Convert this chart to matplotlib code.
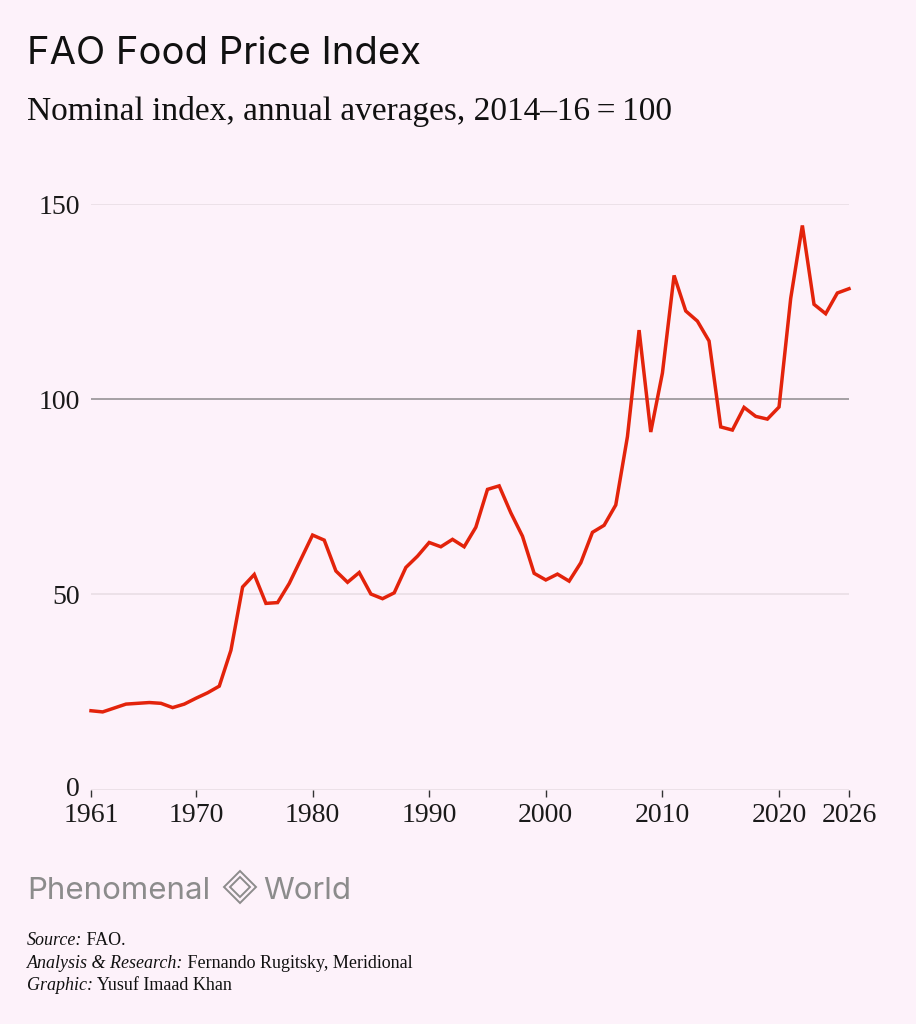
import matplotlib
matplotlib.use('Agg')
import matplotlib.pyplot as plt
import matplotlib.transforms as mtransforms
from matplotlib.patches import Polygon

# FAO food price index, annual averages
YEARS = list(range(1961, 2027))
INDEX = [
    20.2, 19.9, 20.9, 21.9, 22.1, 22.3, 22.1, 21.0, 21.9, 23.4,   # 1961-70
    24.8, 26.5, 35.7, 51.9, 55.1, 47.7, 47.9, 52.8, 59.0, 65.2,   # 1971-80
    63.9, 56.0, 53.1, 55.6, 50.1, 48.9, 50.4, 56.9, 59.8, 63.3,   # 1981-90
    62.2, 64.1, 62.2, 67.2, 76.9, 77.8, 70.9, 64.9, 55.4, 53.7,   # 1991-2000
    55.2, 53.4, 58.1, 65.9, 67.7, 72.9, 90.4, 117.7, 91.6, 106.7, # 2001-10
    131.7, 122.6, 120.0, 114.9, 92.9, 92.1, 97.9, 95.6, 94.9, 98.0, # 2011-20
    125.8, 144.5, 124.3, 121.9, 127.2, 128.3,                       # 2021-26
]
X_TICKS = [1961, 1970, 1980, 1990, 2000, 2010, 2020, 2026]
Y_TICKS = [0, 50, 100, 150]

TITLE = 'FAO Food Price Index'
SUBTITLE = 'Nominal index, annual averages, 2014\u201316\u2009=\u2009100'
CREDITS = [
    ('Source:', ' FAO.'),
    ('Analysis & Research:', ' Fernando Rugitsky, Meridional'),
    ('Graphic:', ' Yusuf Imaad Khan'),
]

BG = '#fdf2fa'
RED = '#e3230b'
SERIF = ['Liberation Serif', 'DejaVu Serif']
SANS = ['Inter', 'DejaVu Sans']

W, H = 916, 1024
fig = plt.figure(figsize=(W / 100, H / 100), dpi=100, facecolor=BG)
ax = fig.add_axes([91 / W, 1 - 789.6 / H, (849 - 91) / W, (789.6 - 204) / H])
ax.set_facecolor(BG)

# gridlines
for v in Y_TICKS:
    if v == 100:
        ax.axhline(v, color='#8e8a8d', lw=1.1, zorder=1)
    else:
        ax.axhline(v, color='#e7dce3', lw=1.1, zorder=1)

ax.plot(YEARS, INDEX, color=RED, lw=2.5, solid_joinstyle='miter', clip_on=False, zorder=3)

ax.set_xlim(1961, 2026)
ax.set_ylim(0, 150)
ax.set_xticks(X_TICKS)
ax.set_yticks(Y_TICKS)
for s in ax.spines.values():
    s.set_visible(False)
ax.tick_params(axis='x', length=5, width=1, color='#333333', pad=5, labelsize=20)
ax.tick_params(axis='y', length=0, pad=8, labelsize=20)
for lab in ax.get_xticklabels() + ax.get_yticklabels():
    lab.set_family(SERIF)
    lab.set_color('#1a1a1a')
# nudge the zero label up a few pixels so it clears the 1961 label
zero = ax.get_yticklabels()[0]
zero.set_transform(zero.get_transform() +
                   mtransforms.ScaledTranslation(0, 3 / 100, fig.dpi_scale_trans))

# titles
fig.text(27 / W, 1 - 64 / H, TITLE, family=SANS, fontweight='normal', fontsize=27.5,
         color='#111111', ha='left', va='baseline')
fig.text(27 / W, 1 - 120 / H, SUBTITLE, family=SERIF, fontsize=24,
         color='#111111', ha='left', va='baseline')

# brand
fig.text(27 / W, 1 - 899 / H, 'Phenomenal', family=SANS, fontweight='normal', fontsize=22.5,
         color='#8c8c8c', ha='left', va='baseline')
fig.text(263 / W, 1 - 899 / H, 'World', family=SANS, fontweight='normal', fontsize=22.5,
         color='#8c8c8c', ha='left', va='baseline')
cx, cy = 240, 887
for r in (16, 10):
    pts = [((cx - r) / W, 1 - cy / H), (cx / W, 1 - (cy - r) / H),
           ((cx + r) / W, 1 - cy / H), (cx / W, 1 - (cy + r) / H)]
    fig.patches.append(Polygon(pts, closed=True, fill=False, edgecolor='#8c8c8c',
                               lw=1.4, transform=fig.transFigure))

# credits: italic label followed by roman text
renderer = fig.canvas.get_renderer()
for i, (lab, rest) in enumerate(CREDITS):
    yb = 1 - (945 + i * 22.5) / H
    t = fig.text(27 / W, yb, lab, family=SERIF, style='italic', fontsize=13,
                 color='#111111', ha='left', va='baseline')
    bb = t.get_window_extent(renderer)
    fig.text(bb.x1 / W, yb, rest, family=SERIF, fontsize=13,
             color='#111111', ha='left', va='baseline')

fig.savefig('out.png', dpi=100, facecolor=BG)
plt.close(fig)
